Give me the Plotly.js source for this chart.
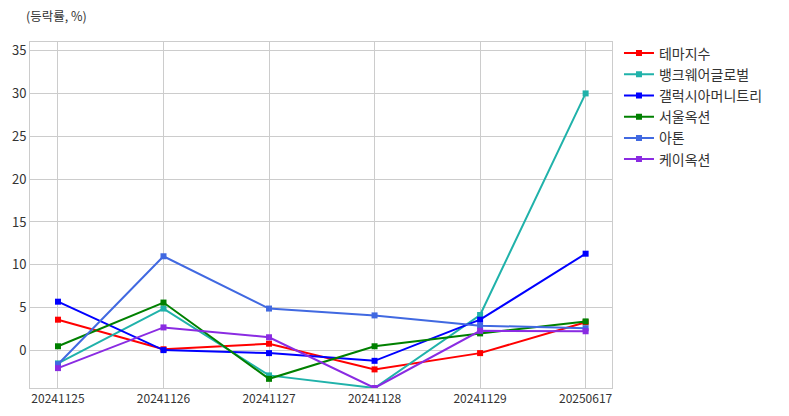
<!DOCTYPE html>
<html>
<head>
<meta charset="utf-8">
<script src="https://cdn.plot.ly/plotly-3.0.1.min.js"></script>
<style>html,body{margin:0;padding:0;background:#fff;}#chart{width:789px;height:416px;}</style>
</head>
<body>
<div id="chart"></div>
<script>
const dates = ["20241125", "20241126", "20241127", "20241128", "20241129", "20250617"];
const seriesNames = ["테마지수", "뱅크웨어글로벌", "갤럭시아머니트리", "서울옥션", "아톤", "케이옥션"];
const themeIndex = [3.6, 0.15, 0.8, -2.2, -0.3, 3.3];
const bankware = [-1.5, 4.9, -2.9, -4.37, 4.15, 30.0];
const galaxia = [5.7, 0.05, -0.3, -1.2, 3.6, 11.3];
const seoulAuction = [0.5, 5.6, -3.3, 0.5, 2.0, 3.4];
const aton = [-1.6, 11.0, 4.9, 4.1, 2.9, 2.6];
const kAuction = [-2.05, 2.7, 1.55, -4.37, 2.3, 2.25];
const seriesValues = [themeIndex, bankware, galaxia, seoulAuction, aton, kAuction];
const colors = ["#ff0000", "#20b2aa", "#0000ff", "#008000", "#4169e1", "#8a2be2"];

const traces = seriesNames.map((name, i) => ({
  type: "scatter",
  mode: "lines+markers",
  name: name,
  x: dates,
  y: seriesValues[i],
  line: {color: colors[i], width: 2},
  marker: {symbol: "square", size: 6, color: colors[i]}
}));

const font = "'Noto Sans CJK KR', 'Noto Sans', sans-serif";
const layout = {
  width: 789,
  height: 416,
  margin: {l: 30, r: 177, t: 42, b: 28},
  paper_bgcolor: "#ffffff",
  plot_bgcolor: "#ffffff",
  font: {family: font, size: 12, color: "#333333"},
  showlegend: true,
  legend: {
    x: 1.012, xanchor: "left", y: 1.013, yanchor: "top",
    font: {family: font, size: 14, color: "#333333"},
    bgcolor: "rgba(0,0,0,0)"
  },
  annotations: [{
    text: "(등락률, %)",
    xref: "paper", yref: "paper",
    x: -0.01, y: 1.0, xanchor: "left", yanchor: "bottom",
    yshift: 15,
    showarrow: false,
    font: {family: font, size: 12.5, color: "#333333"}
  }],
  xaxis: {
    type: "category",
    range: [-0.265, 5.25],
    showgrid: true, gridcolor: "#cccccc", gridwidth: 1,
    showline: true, linecolor: "#cccccc", linewidth: 1, mirror: true,
    ticks: "", tickfont: {family: font, size: 12, color: "#333333"},
    zeroline: false
  },
  yaxis: {
    range: [-4.37, 36],
    tickvals: [0, 5, 10, 15, 20, 25, 30, 35],
    showgrid: true, gridcolor: "#cccccc", gridwidth: 1,
    showline: true, linecolor: "#cccccc", linewidth: 1, mirror: true,
    ticks: "", tickfont: {family: font, size: 13, color: "#333333"},
    zeroline: false
  }
};

Plotly.newPlot("chart", traces, layout, {displayModeBar: false, staticPlot: true});
</script>
</body>
</html>
